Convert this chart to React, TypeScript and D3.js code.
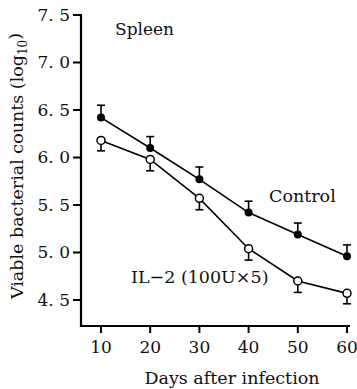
import React from "react";
import * as d3 from "d3";

const days = [10, 20, 30, 40, 50, 60];
const controlMean = [6.42, 6.1, 5.77, 5.42, 5.19, 4.96];
const controlUpper = [6.55, 6.22, 5.9, 5.54, 5.31, 5.08];
const il2Mean = [6.18, 5.98, 5.57, 5.04, 4.7, 4.57];
const il2Lower = [6.07, 5.86, 5.45, 4.92, 4.58, 4.46];
const yTicks = [4.5, 5.0, 5.5, 6.0, 6.5, 7.0, 7.5];
const yTickLabels = ["4. 5", "5. 0", "5. 5", "6. 0", "6. 5", "7. 0", "7. 5"];
const xTickLabels = ["10", "20", "30", "40", "50", "60"];

const W = 357;
const H = 389;
const left = 81;
const right = 350;
const top = 15;
const bottom = 326;
const font = "'DejaVu Serif', serif";

export default function App() {
  const x = d3.scaleLinear().domain([10, 60]).range([101, 347]);
  const y = d3.scaleLinear().domain([7.5 - (bottom - top) / 95, 7.5]).range([bottom, top]);
  const line = d3
    .line<number>()
    .x((_, i) => x(days[i]))
    .y((d) => y(d));

  const cap = 4;
  return (
    <svg
      width={W}
      height={H}
      style={{ position: "absolute", left: 0, top: 0, background: "#fff" }}
      fontFamily={font}
    >
      {/* axes */}
      <line x1={left} x2={left} y1={top - 1} y2={bottom + 1} stroke="#000" strokeWidth={2.2} />
      <line x1={left - 1} x2={right} y1={bottom} y2={bottom} stroke="#000" strokeWidth={2.2} />
      {yTicks.map((t, i) => (
        <g key={t}>
          <line x1={left - 8} x2={left} y1={y(t)} y2={y(t)} stroke="#000" strokeWidth={2} />
          <text x={left - 11} y={y(t)} dy="0.35em" textAnchor="end" fontSize={17} fill="#111">
            {yTickLabels[i]}
          </text>
        </g>
      ))}
      {days.map((d, i) => (
        <g key={d}>
          <line x1={x(d)} x2={x(d)} y1={bottom} y2={bottom + 7} stroke="#000" strokeWidth={2} />
          <text x={x(d)} y={bottom + 21} dy="0.35em" textAnchor="middle" fontSize={17} fill="#111">
            {xTickLabels[i]}
          </text>
        </g>
      ))}
      <text x={232} y={378} dy="0.35em" textAnchor="middle" fontSize={17.5} fill="#111">
        Days after infection
      </text>
      <text
        transform={`translate(17,${166}) rotate(-90)`}
        textAnchor="middle"
        dy="0.35em"
        fontSize={17.5}
        fill="#111"
      >
        Viable bacterial counts (log
        <tspan fontSize={12} dy="0.3em">10</tspan>
        <tspan dy="-0.3em">)</tspan>
      </text>

      {/* labels */}
      <text x={115} y={35} fontSize={17} fill="#111">Spleen</text>
      <text x={269} y={202} fontSize={17.5} fill="#111">Control</text>
      <text x={131} y={283} fontSize={17.5} fill="#111">IL−2 (100U×5)</text>

      {/* error bars */}
      {days.map((d, i) => (
        <g key={"ec" + d} stroke="#000" strokeWidth={1.6}>
          <line x1={x(d)} x2={x(d)} y1={y(controlMean[i])} y2={y(controlUpper[i])} />
          <line x1={x(d) - cap} x2={x(d) + cap} y1={y(controlUpper[i])} y2={y(controlUpper[i])} />
          <line x1={x(d)} x2={x(d)} y1={y(il2Mean[i])} y2={y(il2Lower[i])} />
          <line x1={x(d) - cap} x2={x(d) + cap} y1={y(il2Lower[i])} y2={y(il2Lower[i])} />
        </g>
      ))}

      {/* lines */}
      <path d={line(controlMean) || ""} fill="none" stroke="#000" strokeWidth={1.6} />
      <path d={line(il2Mean) || ""} fill="none" stroke="#000" strokeWidth={1.6} />

      {/* markers */}
      {days.map((d, i) => (
        <g key={"m" + d}>
          <circle cx={x(d)} cy={y(controlMean[i])} r={4} fill="#000" />
          <circle cx={x(d)} cy={y(il2Mean[i])} r={4} fill="#fff" stroke="#000" strokeWidth={1.5} />
        </g>
      ))}
    </svg>
  );
}
